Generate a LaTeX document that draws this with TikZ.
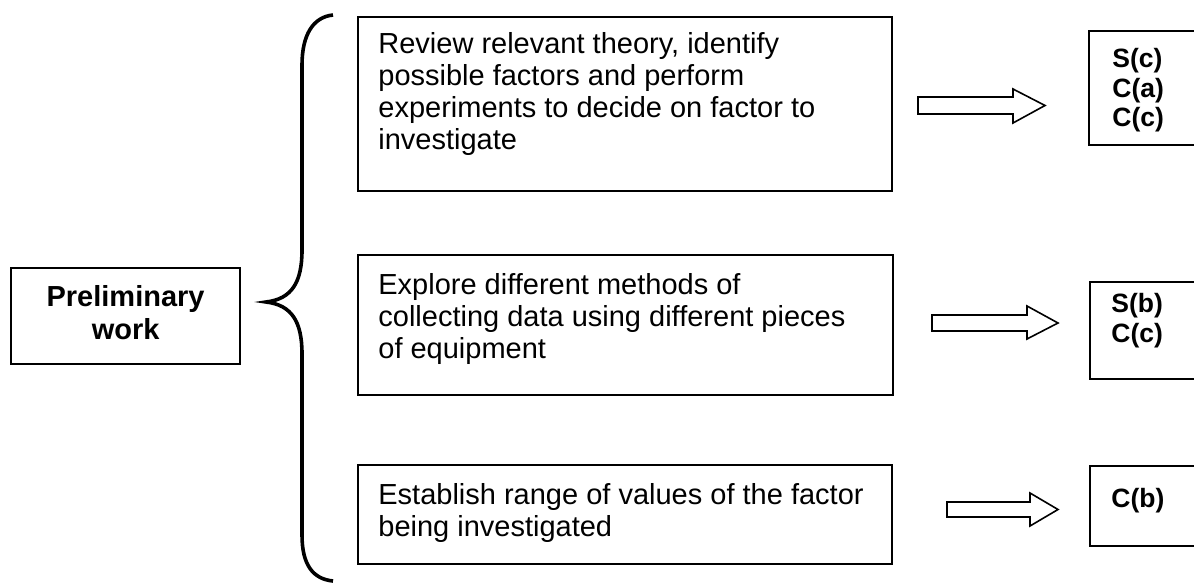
\documentclass[tikz,border=0pt]{standalone}
\usepackage{fontspec}
\setmainfont{Liberation Sans}
\begin{document}
\begin{tikzpicture}[x=0.5pt,y=-0.5pt,
    box/.style={draw, line width=1.1pt, inner sep=0pt, anchor=north west},
    plain/.style={font=\fontsize{14.5}{16}\selectfont, align=left, inner sep=0pt, anchor=north west},
    code/.style={font=\bfseries\fontsize{13.25}{14.75}\selectfont, align=left, inner sep=0pt, anchor=north west},
    blockarrow/.style={draw, line width=0.8pt, line join=miter}]
  \useasboundingbox (0,0) rectangle (1194,583);
  \clip (0,0) rectangle (1194,583);

  \node[box, minimum width=114.5pt, minimum height=48pt] (prelim) at (10,267) {};
  \node[align=center, inner sep=0pt, font=\bfseries\fontsize{14.5}{16.5}\selectfont]
    (prelimtext) at ([yshift=1.75pt]prelim.center) {Preliminary\\work};

  % brace
  \draw[line width=1.8pt] (333,15) .. controls (313,17) and (302,35) .. (302,65)
    -- (302,250) .. controls (302,282) and (292,299) .. (266,302)
    .. controls (292,305) and (302,322) .. (302,354)
    -- (302,535) .. controls (302,565) and (313,579) .. (333,581);

  \node[box, minimum width=267pt, minimum height=87pt] (review) at (357,16) {};
  \node[plain] (reviewtext) at (378,32) {Review relevant theory, identify\\possible factors and perform\\experiments to decide on factor to\\investigate};

  \node[box, minimum width=267.5pt, minimum height=70pt] (explore) at (357,254) {};
  \node[plain] (exploretext) at (378,273) {Explore different methods of\\collecting data using different pieces\\of equipment};

  \node[box, minimum width=267pt, minimum height=49.5pt] (establish) at (357,464) {};
  \node[plain] (establishtext) at (378,483) {Establish range of values of the factor\\being investigated};

  % outcome boxes, cut by the page edge
  \node[box, minimum width=60pt, minimum height=57pt] (codea) at (1088,30) {};
  \node[code] (codeatext) at (1112,48) {S(c)\\C(a)\\C(c)};
  \node[box, minimum width=60pt, minimum height=48.5pt] (codeb) at (1089,281) {};
  \node[code] (codebtext) at (1111,293) {S(b)\\C(c)};
  \node[box, minimum width=60pt, minimum height=40pt] (codec) at (1089,465) {};
  \node[code] (codectext) at (1111,488) {C(b)};

  \draw[blockarrow] (918,97) -- (1013,97) -- (1013,89) -- (1045,105.5) -- (1013,123) -- (1013,114) -- (918,114) -- cycle;
  \draw[blockarrow] (932,315) -- (1027,315) -- (1027,306) -- (1058,323) -- (1027,339) -- (1027,331) -- (932,331) -- cycle;
  \draw[blockarrow] (947,502) -- (1030,502) -- (1030,493) -- (1058,509.5) -- (1030,526) -- (1030,517) -- (947,517) -- cycle;

\end{tikzpicture}
\end{document}
